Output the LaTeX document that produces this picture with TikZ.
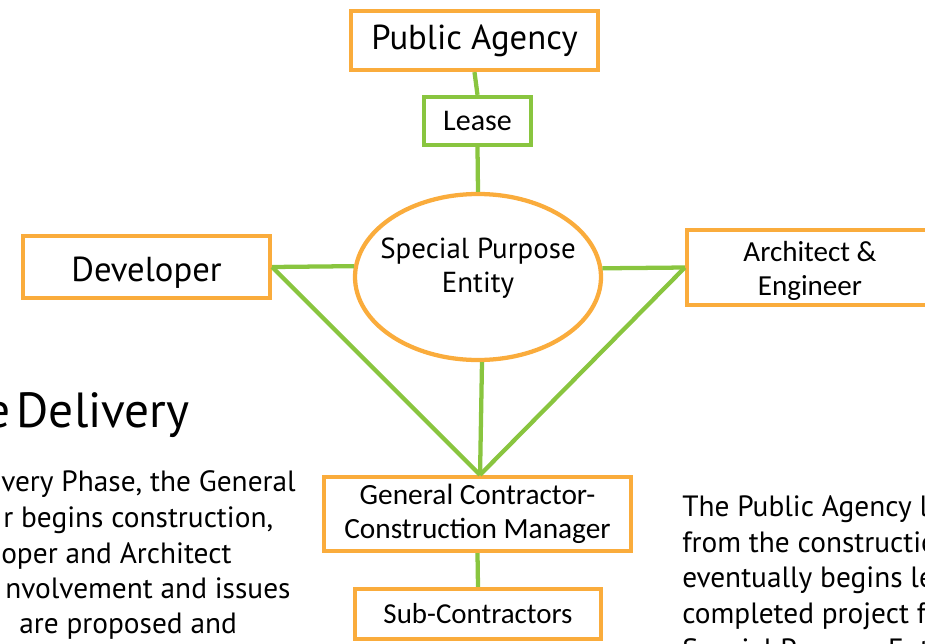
\documentclass[tikz,border=0pt]{standalone}
\usepackage{fontspec}
\setmainfont{PT Sans}
\newfontfamily\calfont{Carlito}
\usetikzlibrary{shapes.geometric}
\definecolor{boxorange}{RGB}{250,172,60}
\definecolor{linkgreen}{RGB}{137,197,63}
\newcommand{\lowered}[2]{\raisebox{-#1}[\height][\depth]{#2}}
\begin{document}
\begin{tikzpicture}[x=0.75pt,y=-0.75pt,
  obox/.style={draw=boxorange,line width=3.2pt,fill=white,inner sep=0pt,align=center},
  gbox/.style={draw=linkgreen,line width=3.2pt,fill=white,inner sep=0pt,align=center},
  link/.style={draw=linkgreen,line width=3.2pt},
  body/.style={inner sep=0pt,anchor=base west,font=\fontsize{22}{27}\selectfont}]
\useasboundingbox (0,0) rectangle (925,643);
\clip (0,0) rectangle (925,643);
% boxes
\node[obox,minimum width=185.25pt,minimum height=44.25pt,font=\fontsize{26}{30}\selectfont] (pa) at (474.5,40.5) {Public Agency};
\node[gbox,minimum width=80.25pt,minimum height=36pt,font=\calfont\fontsize{22.5}{26}\selectfont] (lease) at (477.5,121) {Lease};
\node[obox,minimum width=185.25pt,minimum height=46.5pt,font=\fontsize{26}{30}\selectfont] (dev) at (146.5,267) {\lowered{4pt}{Developer}};
\node[obox,minimum width=184.5pt,minimum height=56.25pt,font=\calfont\fontsize{21.8}{25.5}\selectfont] (arch) at (810,267.5) {\lowered{3pt}{\begin{tabular}{@{}c@{}}Architect \&\\Engineer\end{tabular}}};
\node[draw=boxorange,line width=3.2pt,fill=white,ellipse,inner sep=0pt,minimum width=184.5pt,minimum height=124.5pt] (spe) at (478,277) {};
\node[inner sep=0pt,align=center,font=\fontsize{21.7}{26}\selectfont] (spetext) at (478,268) {Special Purpose\\Entity};
\node[obox,minimum width=230.25pt,minimum height=55.5pt,font=\calfont\fontsize{22}{25.5}\selectfont] (gc) at (477.5,514) {General Contractor-\\Construction Manager};
\node[obox,minimum width=184.5pt,minimum height=37.5pt,font=\calfont\fontsize{21.7}{25}\selectfont] (sub) at (478,614) {Sub-Contractors};
% connectors
\coordinate (gctop) at ([xshift=1.9pt]gc.north);
\draw[link] (pa.south) -- (lease.north);
\draw[link] (lease.south) -- (spe.north);
\draw[link] (dev.east) -- (spe.175.3);
\draw[link] (spe.4.9) -- (arch.west);
\draw[link] (dev.east) -- (gctop);
\draw[link] (arch.west) -- (gctop);
\draw[link] ([xshift=3pt]spe.south) -- (gctop);
\draw[link] (gc.south) -- (sub.north);
% text
\node[inner sep=0pt,anchor=base east,font=\fontsize{37}{42}\selectfont] (title) at (190,427) {e\kern4.5pt Delivery};
\node[body] (l1) at (1,491) {very Phase, the General};
\node[body] (l2) at (3,527) {r begins construction,};
\node[body] (l3) at (1,563) {oper and Architect};
\node[body] (l4) at (5,598) {nvolvement and issues};
\node[body] (l5) at (19,633) {are proposed and};
\node[body] (r1) at (682,516) {The Public Agency l};
\node[body] (r2) at (682,552) {from the construction};
\node[body] (r3) at (682,587) {eventually begins le};
\node[body] (r4) at (682,623) {completed project f};
\node[body] (r5) at (682,659) {Special Purpose Entity};
\end{tikzpicture}
\end{document}
